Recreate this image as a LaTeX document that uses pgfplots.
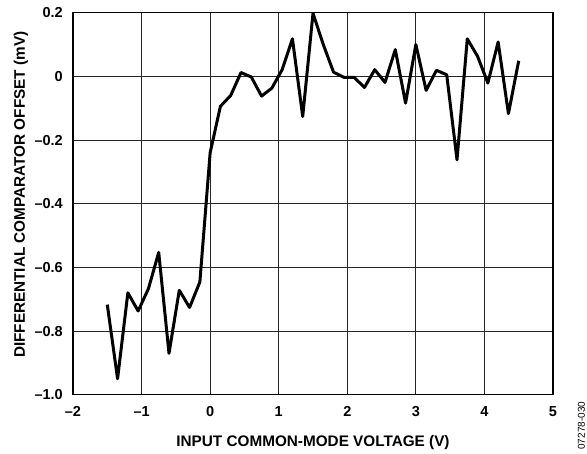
\documentclass[border=0pt]{standalone}
\usepackage{fontspec}
\setmainfont{Liberation Sans}
\usepackage{pgfplots}
\pgfplotsset{compat=1.18}
\begin{document}
\begin{tikzpicture}
\begin{axis}[
  scale only axis,
  width=480pt, height=382pt,
  xmin=-2, xmax=5, ymin=-1.0, ymax=0.2,
  xtick={-2,-1,0,1,2,3,4,5},
  xticklabels={–2,–1,0,1,2,3,4,5},
  ytick={-1.0,-0.8,-0.6,-0.4,-0.2,0,0.2},
  yticklabels={–1.0,–0.8,–0.6,–0.4,–0.2,0,0.2},
  grid=major,
  major grid style={black!85, line width=0.9pt},
  axis line style={black, line width=1.5pt},
  major tick length=0pt,
  ticklabel style={font=\bfseries\fontsize{14.5}{16}\selectfont, inner sep=0pt},
  xticklabel style={anchor=base, yshift=-21.7pt},
  yticklabel style={anchor=east, xshift=-10pt},
]
\addplot[black, line width=3pt, line join=round] coordinates {
(-1.5,-0.717) (-1.35,-0.950) (-1.2,-0.680) (-1.05,-0.737) (-0.9,-0.667)
(-0.75,-0.553) (-0.6,-0.870) (-0.45,-0.672) (-0.3,-0.726) (-0.15,-0.646)
(0,-0.24) (0.15,-0.094) (0.3,-0.060) (0.45,0.012) (0.6,-0.002)
(0.75,-0.062) (0.9,-0.037) (1.05,0.021) (1.2,0.118) (1.35,-0.126)
(1.5,0.198) (1.65,0.10) (1.8,0.013) (1.95,-0.003) (2.1,-0.003)
(2.25,-0.035) (2.4,0.021) (2.55,-0.019) (2.7,0.084) (2.85,-0.084)
(3.0,0.100) (3.15,-0.044) (3.3,0.019) (3.45,0.005) (3.6,-0.262)
(3.75,0.118) (3.9,0.063) (4.05,-0.021) (4.2,0.108) (4.35,-0.117)
(4.5,0.049)
};
\end{axis}
\node[anchor=base, inner sep=0pt, font=\bfseries\fontsize{15.3}{17}\selectfont] at ([yshift=-52pt]current axis.south) {INPUT COMMON-MODE VOLTAGE (V)};
\node[rotate=90, anchor=base, inner sep=0pt, font=\bfseries\fontsize{15.3}{17}\selectfont] at ([xshift=-48pt, yshift=9pt]current axis.west) {DIFFERENTIAL COMPARATOR OFFSET (mV)};
\node[rotate=90, font=\fontsize{10}{11}\selectfont, anchor=center, inner sep=0pt] at ([shift={(28.5pt,-31pt)}]current axis.south east) {07278-030};
\pgfresetboundingbox
\useasboundingbox ([shift={(-73pt,-59pt)}]current axis.south west) rectangle ([shift={(34pt,12.7pt)}]current axis.north east);
\end{tikzpicture}
\end{document}
